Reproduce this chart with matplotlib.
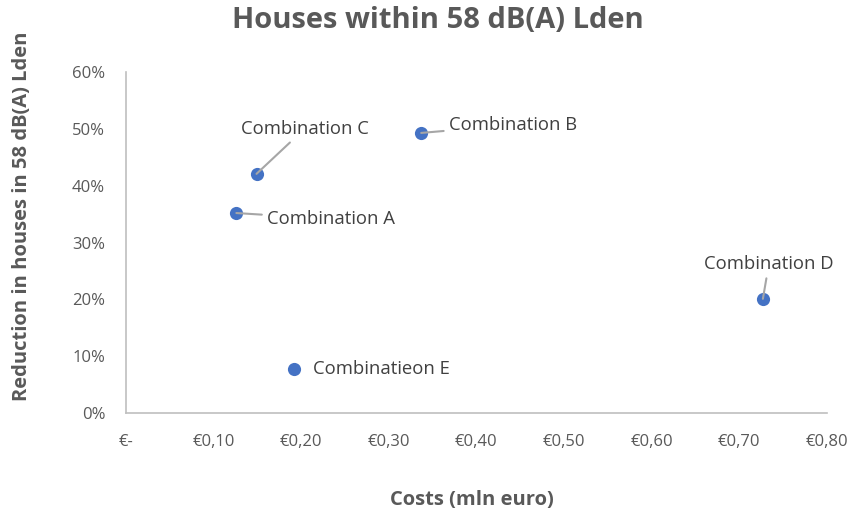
import matplotlib.pyplot as plt
from matplotlib.ticker import FuncFormatter

plt.rcParams['font.family'] = ['Open Sans', 'DejaVu Sans']

# data
names = ['Combination A', 'Combination B', 'Combination C', 'Combination D', 'Combinatieon E']
costs = [0.126, 0.337, 0.149, 0.727, 0.192]
reduction = [0.352, 0.493, 0.421, 0.201, 0.077]

# label offsets in pixels, alignment, leader line yes/no
offsets = [(31, -6), (28, 8), (48, 45), (6, 35), (19, 0)]
aligns = ['left', 'left', 'center', 'center', 'left']
leaders = [True, True, True, True, False]

grey = '#595959'
fig = plt.figure(figsize=(8.64, 5.19), dpi=100)
ax = fig.add_axes([0.1458, 0.2042, 0.8112, 0.6568])

ax.scatter(costs, reduction, s=90, color='#4472C4', zorder=3, linewidths=0)

for name, x, y, off, ha, lead in zip(names, costs, reduction, offsets, aligns, leaders):
    arrow = dict(arrowstyle='-', color='#a6a6a6', lw=1.5, shrinkA=2, shrinkB=0) if lead else None
    ax.annotate(name, (x, y), xytext=off, textcoords='offset pixels',
                ha=ha, va='center', fontsize=13.3, color='#404040',
                arrowprops=arrow, zorder=4)

ax.set_xlim(0, 0.8)
ax.set_ylim(0, 0.6)
ax.set_xticks([i / 10 for i in range(9)])
ax.set_yticks([i / 10 for i in range(7)])

def euro(v, pos):
    if abs(v) < 1e-9:
        return '€-'
    return '€' + f'{v:.2f}'.replace('.', ',')

ax.xaxis.set_major_formatter(FuncFormatter(euro))
ax.yaxis.set_major_formatter(FuncFormatter(lambda v, pos: f'{v * 100:.0f}%'))
ax.tick_params(axis='both', length=0, labelsize=12, labelcolor=grey)
ax.tick_params(axis='x', pad=15)
ax.tick_params(axis='y', pad=15)

for side in ['top', 'right']:
    ax.spines[side].set_visible(False)
for side in ['left', 'bottom']:
    ax.spines[side].set_color('#bfbfbf')
    ax.spines[side].set_linewidth(1.2)

fig.suptitle('Houses within 58 dB(A) Lden', x=0.507, y=0.988, fontsize=21,
             fontweight='bold', color=grey)
ax.set_xlabel('Costs (mln euro)', fontsize=14.5, fontweight='bold', color=grey)
ax.set_ylabel('Reduction in houses in 58 dB(A) Lden', fontsize=14.5, fontweight='bold',
              color=grey)
ax.xaxis.set_label_coords(0.494, -0.255)
ax.xaxis.label.set_va('center')
ax.yaxis.set_label_coords(-0.148, 0.578)
ax.yaxis.label.set_va('center')

fig.savefig('out.png', dpi=100)
